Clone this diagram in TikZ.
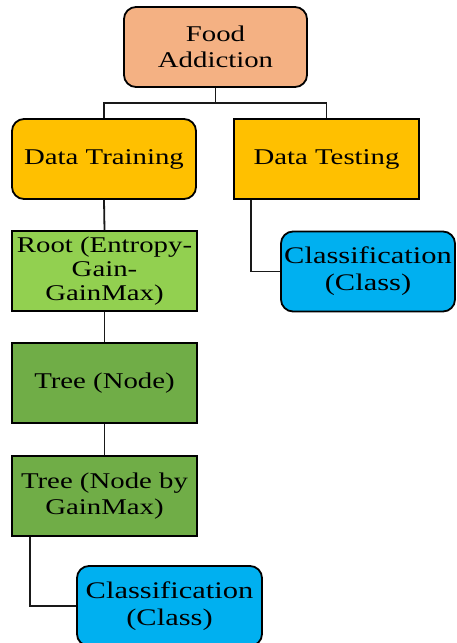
\documentclass[tikz,border=0pt]{standalone}
\usepackage{fontspec}
\setmainfont{Liberation Serif}[FakeStretch=1.28]
\begin{document}
\begin{tikzpicture}[x=1pt,y=-1pt,
  boxbase/.style={draw=black, line width=1.8pt, inner sep=0pt, align=center,
    minimum width=184pt, minimum height=80pt, text=black,
    font={\fontsize{22.5}{26.5}\selectfont}},
  roundbox/.style={boxbase, rounded corners=12pt},
  salmonfill/.style={fill=salmonc},
  goldfill/.style={fill=goldc},
  lightgreen/.style={fill=lgreenc},
  darkgreen/.style={fill=dgreenc},
  clsbox/.style={roundbox, fill=bluec, font={\fontsize{23.8}{27}\selectfont}},
  conn/.style={draw=black!90, line width=1.8pt}
]
\definecolor{salmonc}{HTML}{F4B183}
\definecolor{goldc}{HTML}{FFC000}
\definecolor{lgreenc}{HTML}{92D050}
\definecolor{dgreenc}{HTML}{70AD47}
\definecolor{bluec}{HTML}{00B0F0}
\useasboundingbox (0,0) rectangle (456,643);

\node[roundbox, salmonfill, minimum width=183pt] (food) at (215.5,47) {Food\\Addiction};
\node[roundbox, goldfill] (train) at (104,159) {Data Training};
\node[boxbase, goldfill, minimum width=185pt] (test) at (326.5,159) {Data Testing};
\node[boxbase, lightgreen, minimum width=185pt, font={\fontsize{22.5}{24}\selectfont}] (root) at (104.5,271) {Root (Entropy-\\Gain-\\GainMax)};
\node[clsbox, minimum width=174pt] (cls1) at (368,271.5) {Classification\\(Class)};
\node[boxbase, darkgreen, minimum width=185pt] (tree1) at (104.5,383) {Tree (Node)};
\node[boxbase, darkgreen, minimum width=185pt] (tree2) at (104.5,496) {Tree (Node by\\GainMax)};
\node[clsbox, minimum width=185pt] (cls2) at (169.5,606) {Classification\\(Class)};

\coordinate (split) at (215.5,103);
\draw[conn] (food.south) -- (split);
\draw[conn] (split) -| (train.north);
\draw[conn] (split) -| (test.north);
\draw[conn] (train.south) -- (root.north);
\draw[conn] (root.south) -- (tree1.north);
\draw[conn] (tree1.south) -- (tree2.north);
\draw[conn] ([xshift=18pt]test.south west) |- (cls1.west);
\draw[conn] ([xshift=19pt]tree2.south west) |- (cls2.west);
\end{tikzpicture}
\end{document}
